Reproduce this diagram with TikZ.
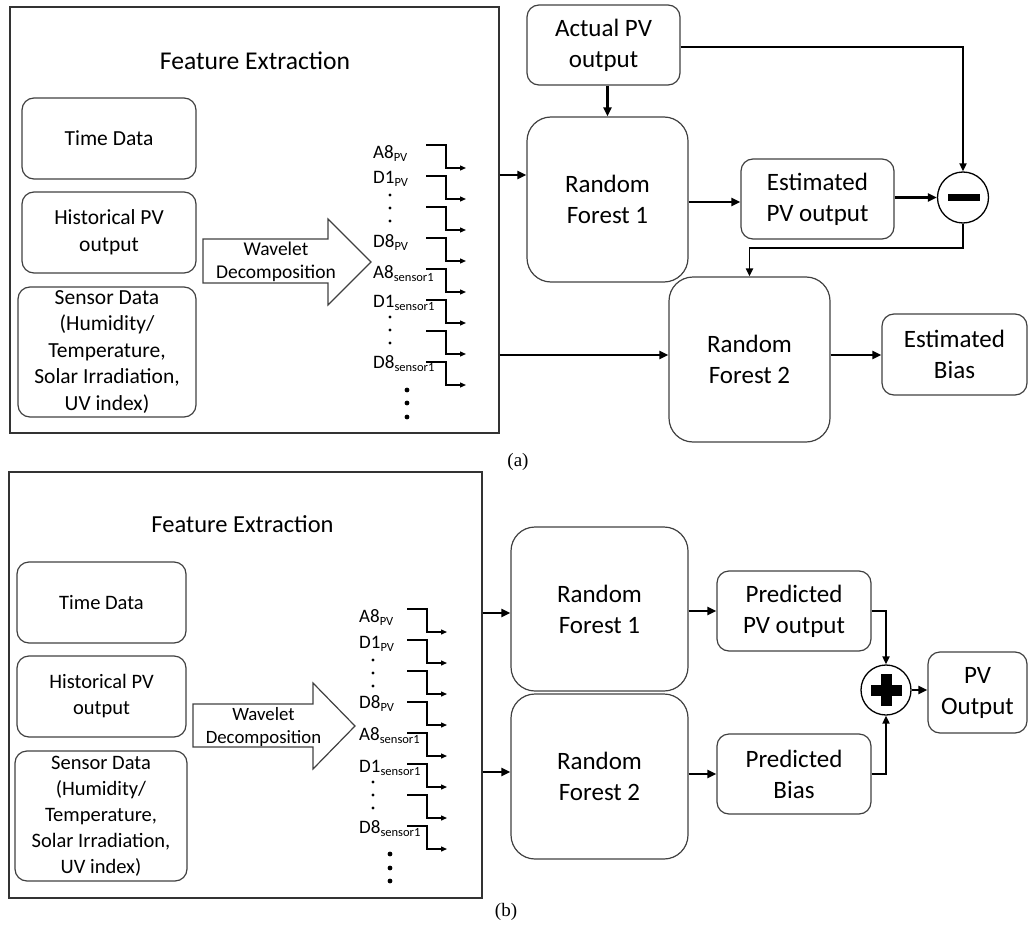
\documentclass[tikz,border=0pt]{standalone}
\usepackage{fontspec}
\setmainfont{Carlito}
\newfontfamily\capfont{Liberation Serif}
\usetikzlibrary{arrows.meta}
\newcommand\sbs[1]{\raisebox{-3.5pt}{\fontsize{12.5}{12.5}\selectfont #1}}
\tikzset{
  frame/.style={draw=black!80, line width=1.3pt, inner sep=0pt},
  lbox/.style={draw=black!75, line width=1.2pt, rounded corners=12pt, align=center, text=black, inner sep=0pt, font=\fontsize{21.5}{26.5}\selectfont},
  lboxb/.style={lbox, font=\fontsize{20.5}{26}\selectfont},
  rbox/.style={draw=black!75, line width=1.2pt, rounded corners=12pt, align=center, text=black, inner sep=0pt, font=\fontsize{25}{31}\selectfont},
  rfbox/.style={rbox, rounded corners=24pt, minimum width=161pt, minimum height=165pt},
  ttl/.style={text=black, font=\fontsize{25.6}{30}\selectfont, inner sep=0pt},
  ttlb/.style={ttl, font=\fontsize{24.5}{30}\selectfont},
  wtxt/.style={text=black, align=center, inner sep=0pt, font=\fontsize{19.5}{23}\selectfont},
  wtxtb/.style={wtxt, font=\fontsize{18.8}{23}\selectfont},
  warrow/.style={draw=black!75, line width=1.2pt, line join=miter},
  lab/.style={text=black, inner sep=0pt, anchor=base west, font=\fontsize{19}{22}\selectfont},
  opc/.style={circle, draw=black, line width=1.3pt, inner sep=0pt},
  thk/.style={line width=2.6pt, -{Triangle[length=9pt,width=8pt]}},
  med/.style={line width=1.9pt, -{Triangle[length=8pt,width=7pt]}},
  thn/.style={line width=1.3pt, -{Triangle[length=6pt,width=5pt]}},
  captxt/.style={inner sep=0pt, font=\capfont\fontsize{19}{21}\selectfont}
}
\begin{document}
\begin{tikzpicture}[x=1pt,y=-1pt]
\useasboundingbox (0,0) rectangle (1028,931);
% ================= (a) =================
\node[frame, minimum width=489pt, minimum height=426pt] (fa) at (254.5,220) {};
\node[ttl] (fta) at (255,61) {Feature Extraction};
\node[lbox, minimum width=174pt, minimum height=81pt] (tda) at (109,138.5) {Time Data};
\node[lbox, minimum width=174pt, minimum height=81pt] (hpa) at (109,232.5) {Historical PV\\output};
\node[lbox, minimum width=178pt, minimum height=130pt] (sda) at (107,352) {Sensor Data\\(Humidity/\\Temperature,\\Solar Irradiation,\\UV index)};
\draw[warrow] (203,239) -- (328,239) -- (328,219) -- (371,262) -- (328,305) -- (328,283) -- (203,283) -- cycle;
\node[wtxt] (wla) at (276,262) {Wavelet\\Decomposition};
\node[lab] (la1) at (373,158) {A8\sbs{PV}};
\node[lab] (la2) at (373,183) {D1\sbs{PV}};
\node[lab] (la3) at (373,247) {D8\sbs{PV}};
\node[lab] (la4) at (373,278) {A8\sbs{sensor1}};
\node[lab] (la5) at (373,307) {D1\sbs{sensor1}};
\node[lab] (la6) at (373,368) {D8\sbs{sensor1}};
\foreach \yy in {195,208,221,317,330,343} \fill (390,\yy) circle (1.6);
\foreach \yy in {390,403,417} \fill (407,\yy) circle (2.4);
\foreach \i in {0,...,7} {
  \coordinate (sa\i) at (426,{145+31*\i});
  \draw[thn] (sa\i) -- ++(20,0) -- ++(0,23) -- ++(20,0);
}
\node[rbox, minimum width=153pt, minimum height=80pt] (apv) at (603.5,45) {Actual PV\\output};
\node[rfbox] (rf1a) at (607.5,199.5) {Random\\Forest 1};
\node[rbox, minimum width=153pt, minimum height=80pt] (epv) at (817.5,199) {Estimated\\PV output};
\node[opc, minimum size=51pt] (mn) at (963,197.5) {};
\fill (948,194) rectangle (980,201);
\node[rfbox] (rf2a) at (749.5,359.5) {Random\\Forest 2};
\node[rbox, minimum width=145pt, minimum height=81pt] (eb) at (954.5,354.5) {Estimated\\Bias};
\coordinate (ya1) at (0,175);
\coordinate (ya2) at (0,355);
\coordinate (ya3) at (0,202);
\coordinate (ya4) at (0,47);
\coordinate (ya5) at (0,248);
\draw[thk] (fa.east |- ya1) -- (rf1a.west |- ya1);
\draw[thk] (fa.east |- ya2) -- (rf2a.west |- ya2);
\draw[thk] (apv.south -| rf1a.north) -- (rf1a.north);
\draw[thk] (rf1a.east |- ya3) -- (epv.west |- ya3);
\draw[thk] (epv.east |- mn) -- (mn.west);
\draw[med] (apv.east |- ya4) -- (mn.north |- ya4) -- (mn.north);
\draw[med] (mn.south) -- (mn.south |- ya5) -- (rf2a.north |- ya5) -- (rf2a.north);
\draw[thk] (rf2a.east |- ya2) -- (eb.west |- ya2);
\node[captxt] (capa) at (518,462) {(a)};
% ================= (b) =================
\node[frame, minimum width=473pt, minimum height=426pt] (fb) at (245.5,685) {};
\node[ttlb] (ftb) at (242.5,524.5) {Feature Extraction};
\node[lboxb, minimum width=169pt, minimum height=81pt] (tdb) at (101.5,602.5) {Time Data};
\node[lboxb, minimum width=169pt, minimum height=81pt] (hpb) at (101.5,696.5) {Historical PV\\output};
\node[lboxb, minimum width=172pt, minimum height=130pt] (sdb) at (101,816) {Sensor Data\\(Humidity/\\Temperature,\\Solar Irradiation,\\UV index)};
\draw[warrow] (193,704) -- (313,704) -- (313,683) -- (355,726) -- (313,769) -- (313,747) -- (193,747) -- cycle;
\node[wtxtb] (wlb) at (263.5,726.5) {Wavelet\\Decomposition};
\node[lab] (lb1) at (359,622) {A8\sbs{PV}};
\node[lab] (lb2) at (359,648) {D1\sbs{PV}};
\node[lab] (lb3) at (359,708) {D8\sbs{PV}};
\node[lab] (lb4) at (359,740) {A8\sbs{sensor1}};
\node[lab] (lb5) at (359,772) {D1\sbs{sensor1}};
\node[lab] (lb6) at (359,833) {D8\sbs{sensor1}};
\foreach \yy in {660,673,686,782,795,808} \fill (373,\yy) circle (1.6);
\foreach \yy in {854,868,881} \fill (390,\yy) circle (2.4);
\foreach \i in {0,...,7} {
  \coordinate (sb\i) at (407,{609+31*\i});
  \draw[thn] (sb\i) -- ++(20,0) -- ++(0,23) -- ++(20,0);
}
\node[rfbox, minimum width=177pt, minimum height=164pt] (rf1b) at (599.5,609) {Random\\Forest 1};
\node[rfbox, minimum width=177pt, minimum height=165pt] (rf2b) at (599.5,776.5) {Random\\Forest 2};
\node[rbox, minimum width=154pt, minimum height=80pt] (ppv) at (794,611) {Predicted\\PV output};
\node[rbox, minimum width=154pt, minimum height=80pt] (pb) at (794,774) {Predicted\\Bias};
\node[opc, minimum size=50pt] (pl) at (886,690) {};
\fill (871,684.5) rectangle (902,695.5);
\fill (880.5,674) rectangle (891.5,706);
\node[rbox, minimum width=99pt, minimum height=81pt] (pvo) at (977.5,692.5) {PV\\Output};
\coordinate (yb1) at (0,613);
\coordinate (yb2) at (0,772);
\draw[thk] (fb.east |- yb1) -- (rf1b.west |- yb1);
\draw[thk] (fb.east |- yb2) -- (rf2b.west |- yb2);
\draw[thk] (rf1b.east |- ppv) -- (ppv.west);
\draw[thk] (rf2b.east |- pb) -- (pb.west);
\draw[med] (ppv.east) -- (pl.north |- ppv.east) -- (pl.north);
\draw[med] (pb.east) -- (pl.south |- pb.east) -- (pl.south);
\draw[thk] (pl.east) -- (pvo.west |- pl.east);
\node[captxt] (capb) at (506,912) {(b)};
\end{tikzpicture}
\end{document}
